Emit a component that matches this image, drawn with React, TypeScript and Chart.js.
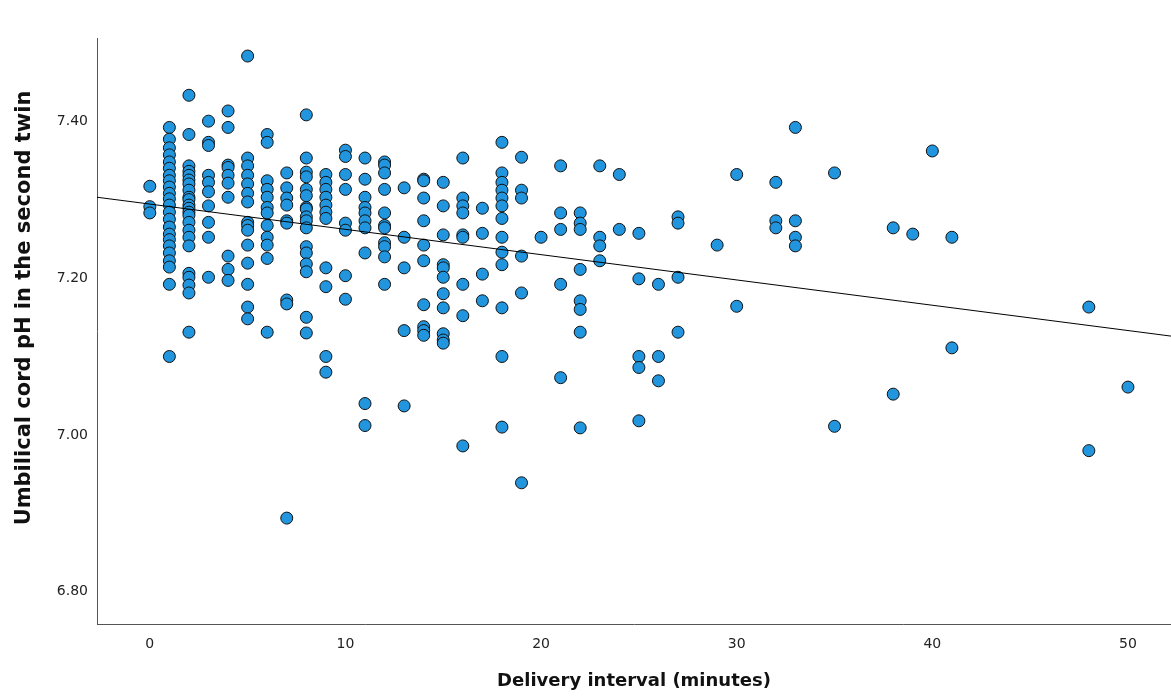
import React, { useEffect, useRef } from "react";
import { Chart, registerables } from "chart.js";

Chart.register(...registerables);

// Delivery interval (minutes) for each column of points
const intervals: number[] = [
  0, 1, 2, 3, 4, 5, 6, 7, 8, 9, 10, 11, 12, 13, 14, 15, 16, 17, 18, 19, 20,
  21, 22, 23, 24, 25, 26, 27, 29, 30, 32, 33, 35, 38, 39, 40, 41, 48, 50,
];

// Umbilical cord pH of the second twin, one list per interval above
const cordPh: number[][] = [
  [7.317, 7.291, 7.283],
  [7.392, 7.377, 7.366, 7.357, 7.348, 7.34, 7.331, 7.324, 7.316, 7.308, 7.301, 7.293, 7.284, 7.275, 7.265, 7.256, 7.249, 7.241, 7.232, 7.222, 7.214, 7.192, 7.1],
  [7.433, 7.383, 7.343, 7.336, 7.331, 7.325, 7.32, 7.312, 7.303, 7.3, 7.293, 7.289, 7.284, 7.28, 7.271, 7.261, 7.252, 7.241, 7.206, 7.201, 7.191, 7.181, 7.131],
  [7.4, 7.373, 7.369, 7.331, 7.322, 7.31, 7.292, 7.271, 7.252, 7.201],
  [7.413, 7.392, 7.344, 7.341, 7.331, 7.321, 7.303, 7.228, 7.211, 7.197],
  [7.483, 7.353, 7.343, 7.331, 7.32, 7.308, 7.297, 7.271, 7.267, 7.261, 7.242, 7.219, 7.192, 7.163, 7.148],
  [7.383, 7.373, 7.324, 7.313, 7.303, 7.29, 7.283, 7.267, 7.252, 7.242, 7.225, 7.131],
  [7.334, 7.315, 7.302, 7.293, 7.273, 7.27, 7.172, 7.167, 6.894],
  [7.408, 7.353, 7.335, 7.329, 7.313, 7.305, 7.29, 7.288, 7.278, 7.273, 7.264, 7.24, 7.232, 7.218, 7.208, 7.15, 7.13],
  [7.332, 7.322, 7.313, 7.303, 7.293, 7.284, 7.276, 7.213, 7.189, 7.1, 7.08],
  [7.363, 7.355, 7.332, 7.313, 7.27, 7.261, 7.203, 7.173],
  [7.353, 7.326, 7.303, 7.29, 7.283, 7.273, 7.264, 7.232, 7.04, 7.012],
  [7.348, 7.344, 7.334, 7.313, 7.283, 7.267, 7.264, 7.245, 7.24, 7.227, 7.192],
  [7.315, 7.252, 7.213, 7.133, 7.037],
  [7.326, 7.324, 7.302, 7.273, 7.242, 7.222, 7.166, 7.138, 7.133, 7.127],
  [7.322, 7.292, 7.255, 7.217, 7.213, 7.201, 7.18, 7.162, 7.129, 7.121, 7.117],
  [7.353, 7.302, 7.292, 7.283, 7.255, 7.252, 7.192, 7.152, 6.986],
  [7.289, 7.257, 7.205, 7.171],
  [7.373, 7.334, 7.322, 7.312, 7.302, 7.292, 7.276, 7.252, 7.233, 7.217, 7.162, 7.1, 7.01],
  [7.354, 7.312, 7.302, 7.228, 7.181, 6.939],
  [7.252],
  [7.343, 7.283, 7.262, 7.192, 7.073],
  [7.283, 7.27, 7.262, 7.211, 7.171, 7.16, 7.131, 7.009],
  [7.343, 7.252, 7.241, 7.222],
  [7.332, 7.262],
  [7.257, 7.199, 7.1, 7.086, 7.018],
  [7.192, 7.1, 7.069],
  [7.278, 7.27, 7.201, 7.131],
  [7.242],
  [7.332, 7.164],
  [7.322, 7.273, 7.264],
  [7.392, 7.273, 7.252, 7.241],
  [7.334, 7.011],
  [7.264, 7.052],
  [7.256],
  [7.362],
  [7.252, 7.111],
  [7.163, 6.98],
  [7.061],
];

// Fit line end points
const fitX: number[] = [-2.7, 52.2];
const fitY: number[] = [7.303, 7.126];

// Axis ticks and ranges
const xTicks: number[] = [0, 10, 20, 30, 40, 50];
const yTicks: number[] = [6.8, 7.0, 7.2, 7.4];
const xRange: number[] = [-2.7, 52.2];
const yRange: number[] = [6.759, 7.506];

const xTitle = "Delivery interval (minutes)";
const yTitle = "Umbilical cord pH in the second twin";

export default function App() {
  const canvasRef = useRef<HTMLCanvasElement | null>(null);

  useEffect(() => {
    const canvas = canvasRef.current;
    if (!canvas) return;

    const points: { x: number; y: number }[] = [];
    intervals.forEach((m, i) => {
      cordPh[i].forEach((v) => points.push({ x: m, y: v }));
    });
    const fit = fitX.map((x, i) => ({ x, y: fitY[i] }));

    const titlePlugin = {
      id: "axisTitles",
      afterDraw(chart: any) {
        const ctx = chart.ctx;
        ctx.save();
        ctx.fillStyle = "#111";
        ctx.textAlign = "center";
        ctx.textBaseline = "middle";
        ctx.font = "bold 18px 'DejaVu Sans'";
        ctx.fillText(xTitle, 634, 681);
        ctx.translate(25, 308);
        ctx.rotate(-Math.PI / 2);
        ctx.font = "bold 21px 'DejaVu Sans'";
        ctx.fillText(yTitle, 0, 0);
        ctx.restore();
      },
    };

    const chart = new Chart(canvas, {
      type: "scatter",
      data: {
        datasets: [
          {
            type: "line",
            data: fit,
            borderColor: "#000",
            borderWidth: 1,
            pointRadius: 0,
            fill: false,
            order: 0,
          } as any,
          {
            type: "scatter",
            data: points,
            backgroundColor: "#2196de",
            borderColor: "#111",
            borderWidth: 1,
            pointRadius: 6,
            order: 1,
          },
        ],
      },
      options: {
        animation: false,
        responsive: false,
        layout: { autoPadding: false, padding: { top: 38, right: 0, left: 0, bottom: 0 } },
        plugins: {
          legend: { display: false },
          tooltip: { enabled: false },
        },
        scales: {
          x: {
            type: "linear",
            min: xRange[0],
            max: xRange[1],
            grid: { display: false, drawTicks: false },
            border: { display: true, color: "#555", width: 1 },
            afterBuildTicks: (scale: any) => {
              scale.ticks = xTicks.map((v) => ({ value: v }));
            },
            afterFit: (scale: any) => {
              scale.height = 74;
              scale.paddingLeft = 0;
              scale.paddingRight = 0;
            },
            ticks: {
              padding: 12,
              color: "#222",
              font: { family: "'DejaVu Sans'", size: 14 },
              callback: (v: any) => String(v),
            },
          },
          y: {
            type: "linear",
            min: yRange[0],
            max: yRange[1],
            grid: { display: false, drawTicks: false },
            border: { display: true, color: "#555", width: 1 },
            afterBuildTicks: (scale: any) => {
              scale.ticks = yTicks.map((v) => ({ value: v }));
            },
            afterFit: (scale: any) => {
              scale.width = 97;
              scale.paddingTop = 0;
              scale.paddingBottom = 0;
            },
            ticks: {
              padding: 9,
              color: "#222",
              font: { family: "'DejaVu Sans'", size: 14 },
              callback: (v: any) => Number(v).toFixed(2),
            },
          },
        },
      },
      plugins: [titlePlugin],
    });

    return () => chart.destroy();
  }, []);

  return (
    <div style={{ position: "absolute", left: 0, top: 0, width: 1171, height: 698, background: "#fff" }}>
      <canvas ref={canvasRef} width={1171} height={698} />
    </div>
  );
}
